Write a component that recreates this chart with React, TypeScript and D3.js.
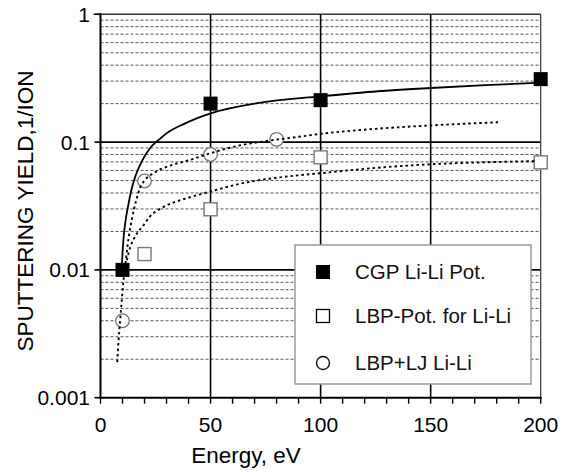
import React from "react";
import * as d3 from "d3";

const W = 571;
const H = 472;

// Measured data points
const cgpE = [10, 50, 100, 200];
const cgpY = [0.01, 0.2, 0.213, 0.311];

const lbpE = [20, 50, 100, 200];
const lbpY = [0.0133, 0.0298, 0.076, 0.0694];

const ljE = [10, 20, 50, 80];
const ljY = [0.004, 0.0496, 0.08, 0.105];

// Fit curves
const cgpFitE = [9.6, 10.0, 10.5, 11.5, 12.6, 14, 16, 19, 23, 27, 30, 38, 50, 72, 100, 126, 150, 175, 200];
const cgpFitY = [0.01, 0.0135, 0.018, 0.025, 0.032, 0.042, 0.055, 0.072, 0.092, 0.106, 0.117, 0.139, 0.168, 0.203, 0.228, 0.25, 0.265, 0.279, 0.292];

const lbpFitE = [10.8, 12, 13.5, 15.7, 19.4, 22.5, 28.5, 36, 40.6, 49.7, 67.9, 81.5, 99.6, 120.9, 149.6, 181.4, 198];
const lbpFitY = [0.0098, 0.012, 0.015, 0.0182, 0.0222, 0.0262, 0.031, 0.035, 0.037, 0.041, 0.049, 0.053, 0.057, 0.062, 0.067, 0.07, 0.071];

const ljFitE = [7.6, 8.2, 8.9, 9.6, 10.3, 11.3, 12.6, 14.2, 16.4, 18, 20, 24.7, 30, 40.6, 49.7, 61.8, 75.5, 90, 100, 125, 150, 180.6];
const ljFitY = [0.0019, 0.0028, 0.004, 0.0056, 0.0078, 0.011, 0.017, 0.0246, 0.036, 0.044, 0.05, 0.058, 0.064, 0.0725, 0.0816, 0.093, 0.102, 0.11, 0.116, 0.127, 0.135, 0.143];

const xTicks = [0, 50, 100, 150, 200];
const xMinorTicks = d3.range(0, 201, 10);
const yTicks = [0.001, 0.01, 0.1, 1];
const yTickLabels = ["0.001", "0.01", "0.1", "1"];

const legendLabels = ["CGP Li-Li Pot.", "LBP-Pot. for Li-Li", "LBP+LJ Li-Li"];

const FONT = "'Liberation Sans', Arial, sans-serif";

export default function App() {
  const x = d3.scaleLinear().domain([0, 200]).range([100.5, 540.7]);
  const y = d3.scaleLog().domain([0.001, 1]).range([397.7, 14.3]);

  const minorY: number[] = [];
  [0.001, 0.01, 0.1].forEach((d) => {
    for (let k = 2; k <= 9; k++) minorY.push(d * k);
  });

  const line = d3
    .line<[number, number]>()
    .x((d) => x(d[0]))
    .y((d) => y(d[1]))
    .curve(d3.curveMonotoneX);

  const zip = (a: number[], b: number[]) => a.map((v, i) => [v, b[i]] as [number, number]);

  const x0 = x(0);
  const x1 = x(200);
  const yb = y(0.001);
  const yt = y(1);

  const lg = { x: 295, y: 245, w: 236, h: 139 };
  const rows = [272, 316, 363];

  return (
    <svg
      width={W}
      height={H}
      style={{ position: "absolute", left: 0, top: 0, background: "#fff" }}
      fontFamily={FONT}
    >
      <rect x={0} y={0} width={W} height={H} fill="#fff" />
      {/* minor horizontal dashed grid */}
      {minorY.map((v, i) => (
        <line key={"mg" + i} x1={x0} x2={x1} y1={y(v)} y2={y(v)} stroke="#555" strokeWidth={1} strokeDasharray="3,2" />
      ))}
      {/* major horizontal grid */}
      {[0.01, 0.1].map((v) => (
        <line key={"My" + v} x1={x0} x2={x1} y1={y(v)} y2={y(v)} stroke="#000" strokeWidth={1.6} />
      ))}
      {/* top border */}
      <line x1={x0 - 7} x2={x1} y1={yt} y2={yt} stroke="#333" strokeWidth={1.5} />
      {/* vertical grid */}
      {[50, 100, 150].map((v) => (
        <line key={"Mx" + v} x1={x(v)} x2={x(v)} y1={yt} y2={yb} stroke="#000" strokeWidth={1.6} />
      ))}
      {/* right border */}
      <line x1={x1} x2={x1} y1={yt} y2={yb} stroke="#333" strokeWidth={1.2} />

      {/* markers */}
      {zip(cgpE, cgpY).map((d, i) => (
        <rect key={"c" + i} x={x(d[0]) - 7} y={y(d[1]) - 7} width={14} height={14} fill="#000" />
      ))}
      {zip(lbpE, lbpY).map((d, i) => (
        <rect key={"l" + i} x={x(d[0]) - 6.5} y={y(d[1]) - 6.5} width={13} height={13} fill="#fff" stroke="#777" strokeWidth={1.4} />
      ))}
      {zip(ljE, ljY).map((d, i) => (
        <circle key={"j" + i} cx={x(d[0])} cy={y(d[1])} r={6.8} fill="#fff" stroke="#777" strokeWidth={1.3} />
      ))}

      {/* fit curves */}
      <path d={line(zip(cgpFitE, cgpFitY)) || ""} fill="none" stroke="#000" strokeWidth={1.8} />
      <path d={line(zip(lbpFitE, lbpFitY)) || ""} fill="none" stroke="#000" strokeWidth={1.9} strokeDasharray="2.5,3" />
      <path d={line(zip(ljFitE, ljFitY)) || ""} fill="none" stroke="#000" strokeWidth={1.9} strokeDasharray="2.5,3" />

      {/* legend */}
      <rect x={lg.x} y={lg.y} width={lg.w} height={lg.h} fill="#fff" stroke="#999" strokeWidth={1.5} />
      <rect x={323 - 7} y={rows[0] - 7} width={14} height={14} fill="#000" />
      <rect x={323 - 6.5} y={rows[1] - 6.5} width={13} height={13} fill="#fff" stroke="#000" strokeWidth={1.3} />
      <circle cx={323} cy={rows[2]} r={6.5} fill="#fff" stroke="#000" strokeWidth={1.3} />
      {legendLabels.map((t, i) => (
        <text key={t} x={355} y={rows[i]} dy="0.35em" fontSize={20.5} fill="#111">
          {t}
        </text>
      ))}

      {/* axes */}
      <line x1={x0} x2={x0} y1={yt - 1} y2={yb + 1} stroke="#000" strokeWidth={2} />
      <line x1={x0 - 1} x2={x1 + 1} y1={yb} y2={yb} stroke="#000" strokeWidth={2} />
      {yTicks.map((v) => (
        <line key={"yt" + v} x1={x0 - 6} x2={x0} y1={y(v)} y2={y(v)} stroke="#000" strokeWidth={1.6} />
      ))}
      {xMinorTicks.map((v) => (
        <line key={"xt" + v} x1={x(v)} x2={x(v)} y1={yb} y2={yb + 6} stroke="#000" strokeWidth={1.4} />
      ))}
      {yTicks.map((v, i) => (
        <text key={"yl" + v} x={90} y={y(v)} dy="0.36em" textAnchor="end" fontSize={21} fill="#000">
          {yTickLabels[i]}
        </text>
      ))}
      {xTicks.map((v) => (
        <text key={"xl" + v} x={x(v)} y={432} textAnchor="middle" fontSize={21} fill="#000">
          {v}
        </text>
      ))}
      <text x={246} y={463} textAnchor="middle" fontSize={22.5} fill="#000">
        Energy, eV
      </text>
      <text
        transform={`translate(33, 211) rotate(-90)`}
        textAnchor="middle"
        fontSize={22.5}
        fill="#000"
      >
        SPUTTERING YIELD,1/ION
      </text>
    </svg>
  );
}
